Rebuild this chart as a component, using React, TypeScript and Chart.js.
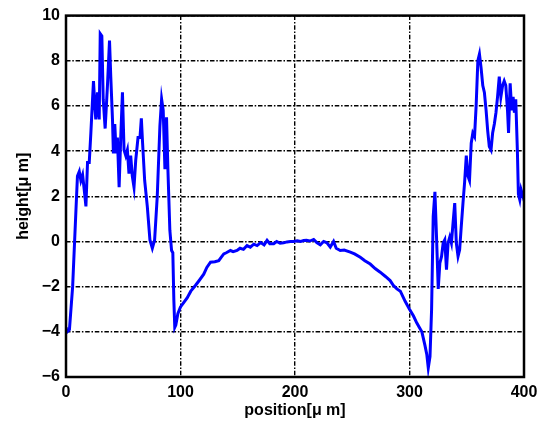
import React, { useEffect, useRef } from "react";
import { Chart, registerables } from "chart.js";

Chart.register(...registerables);

const positions: number[] = [
  0, 1, 3, 5.8, 8.7, 10, 11.6, 13, 14.5, 15.9, 17.4, 18.8, 20.3, 21.7, 23.2, 24, 25.2, 26, 27.5, 29,
  29.9, 31.3, 32.5, 34.2, 36.2, 38, 39.1, 40.6, 41.4, 42.6, 43.8, 44.9, 46.4, 47.8, 49.3, 50.7, 52.2,
  53.6, 55, 56.5, 57.9, 59.4, 60.9, 62.9, 64.6, 65.8, 66.9, 68.7, 71, 73.3, 75.4, 77.4, 79.7, 82, 83.5,
  84.9, 86.4, 87.8, 89, 90.7, 92.2, 93.3, 94.2, 95, 95.9, 97.7, 100,
  105.8, 109, 113, 116, 120.3, 123, 126.2, 130, 133.4, 135.5, 137.8, 140, 143.6, 146, 149.4, 152, 155,
  158.1, 161, 164, 166.9, 170, 173, 175.6, 178, 181.4, 184, 187, 190.1, 193, 196, 198.8, 202, 205,
  207.6, 210, 213, 216.3, 219, 222.1, 225, 227.9, 230.8, 233.7, 236, 239.5, 243, 248.3, 252, 257, 261,
  265.7, 270, 274.4, 279, 283.1, 286, 289, 292, 296.2, 300, 303.5, 306.3, 308.5, 310.8, 313.5, 315.1,
  316.4, 317.9, 319.3, 320.7, 322.2, 323.6, 325.1, 326.5, 328, 329.4, 330.8, 332.3, 333.7, 335.2,
  336.6, 338, 339.5, 340.9, 342.4, 343.8, 345.2, 346.7, 348.1, 349.6, 351, 352.4, 353.9, 355.3, 356.8,
  358.2, 359.7, 361.1, 362.5, 364, 365.4, 366.9, 368.3, 369.7, 371.2, 372.6, 374.1, 375.5, 376.9,
  378.4, 379.8, 381.3, 382.7, 384.1, 385.6, 386.5, 387.9, 389.3, 390.5, 391.6, 392.8, 394.2, 395.1,
  396.3, 397.4, 399.1, 400,
];

const heights: number[] = [
  -3.8, -4.0, -3.9, -2.0, 1.4, 2.9, 3.1, 2.7, 2.95, 2.3, 1.55, 3.5, 3.5, 4.8, 6.3, 7.1, 6.0, 5.4, 6.6, 5.4,
  9.2, 9.1, 6.3, 5.0, 6.9, 8.9, 7.3, 5.4, 3.9, 5.2, 3.9, 4.6, 2.4, 4.6, 6.6, 4.05, 3.8,
  4.05, 3.0, 3.8, 2.9, 2.4, 3.6, 4.6, 4.6, 5.45, 4.35, 2.7, 1.55, 0.07, -0.3, 0.07, 2.0, 5.1, 6.3,
  5.8, 3.2, 5.5, 3.2, 0.5, -0.4, -0.5, -2.6, -3.8, -3.7, -3.2, -2.9,
  -2.5, -2.2, -1.95, -1.75, -1.45, -1.15, -0.92, -0.9, -0.85, -0.7, -0.55, -0.5, -0.4, -0.45, -0.4, -0.3, -0.35,
  -0.18, -0.25, -0.12, -0.18, -0.05, -0.15, 0.05, -0.1, -0.1, 0.0, -0.08, -0.06, -0.02, 0.0, 0.0, 0.03, 0.0,
  0.04, 0.05, 0.02, 0.09, -0.05, -0.15, 0.0, -0.06, -0.25, 0.0, -0.3, -0.4, -0.38, -0.47, -0.55, -0.7, -0.85,
  -1.0, -1.2, -1.36, -1.55, -1.73, -1.95, -2.1, -2.2, -2.65, -3.0, -3.3, -3.6, -3.8, -4.0, -4.6, -5.0,
  -5.6, -5.1, -3.0, 1.1, 2.2, 0.2, -2.1, -0.96, -0.66, -0.07, 0.07, -1.25, -0.07, 0.2,
  -0.07, 0.8, 1.7, -0.07, -0.66, -0.37, 0.66, 1.7, 2.6, 3.8, 2.9, 2.7, 4.35, 4.8, 4.65,
  6.0, 8.0, 8.3, 7.7, 6.9, 6.6, 5.8, 4.9, 4.2, 4.05, 4.8, 5.2, 5.7, 6.4,
  7.3, 6.4, 6.9, 7.1, 6.9, 5.8, 4.8, 7.0, 5.8, 6.4, 5.7, 6.3, 4.05, 2.1,
  1.85, 2.3, 2.0, 2.2,
];

const xTicks: number[] = [0, 100, 200, 300, 400];
const yTicks: number[] = [-6, -4, -2, 0, 2, 4, 6, 8, 10];
const xTitle = "position[\u03bc m]";
const yTitle = "height[\u03bc m]";

const FONT = "'Liberation Sans', Arial, sans-serif";

const framePlugin = {
  id: "frame",
  afterDatasetsDraw(chart: any) {
    const { ctx, chartArea } = chart;
    ctx.save();
    ctx.strokeStyle = "#000";
    ctx.lineWidth = 2.5;
    ctx.setLineDash([]);
    ctx.strokeRect(chartArea.left, chartArea.top, chartArea.right - chartArea.left, chartArea.bottom - chartArea.top);
    ctx.restore();
  },
};

export default function App() {
  const ref = useRef<HTMLCanvasElement | null>(null);

  useEffect(() => {
    if (!ref.current) return;
    const data = positions.map((x, i) => ({ x, y: heights[i] }));
    const chart = new Chart(ref.current, {
      type: "line",
      data: {
        datasets: [
          {
            data,
            borderColor: "#0000ff",
            borderWidth: 3,
            pointRadius: 0,
            tension: 0,
            fill: false,
          },
        ],
      },
      options: {
        responsive: false,
        animation: false,
        layout: { padding: { left: 0, top: 15, right: 21, bottom: 0 } },
        plugins: { legend: { display: false }, tooltip: { enabled: false } },
        scales: {
          x: {
            type: "linear",
            min: 0,
            max: 400,
            afterBuildTicks: (s: any) => {
              s.ticks = xTicks.map((v) => ({ value: v }));
            },
            afterFit: (s: any) => {
              s.height = 51;
            },
            ticks: {
              color: "#000",
              padding: 6,
              font: { family: FONT, size: 16, weight: "bold" },
              callback: (v: any) => String(v).replace("-", "\u2212"),
            },
            grid: { color: "#000", lineWidth: 1.4, drawTicks: false },
            border: { display: false, dash: [4.5, 1.8, 1.5, 1.8] },
            title: {
              display: true,
              text: xTitle,
              color: "#000",
              padding: { top: 0, bottom: 8 },
              font: { family: FONT, size: 16, weight: "bold" },
            },
          },
          y: {
            type: "linear",
            min: -6,
            max: 10,
            afterBuildTicks: (s: any) => {
              s.ticks = yTicks.map((v) => ({ value: v }));
            },
            afterFit: (s: any) => {
              s.width = 66;
            },
            ticks: {
              color: "#000",
              padding: 6,
              font: { family: FONT, size: 16, weight: "bold" },
              callback: (v: any) => String(v).replace("-", "\u2212"),
            },
            grid: { color: "#000", lineWidth: 1.4, drawTicks: false },
            border: { display: false, dash: [4.5, 1.8, 1.5, 1.8] },
            title: {
              display: true,
              text: yTitle,
              color: "#000",
              padding: { top: 14, bottom: 0 },
              font: { family: FONT, size: 16, weight: "bold" },
            },
          },
        },
      },
      plugins: [framePlugin],
    } as any);
    return () => chart.destroy();
  }, []);

  return (
    <div style={{ position: "absolute", left: 0, top: 0, width: 545, height: 428, background: "#fff" }}>
      <canvas ref={ref} width={545} height={428} style={{ width: 545, height: 428 }} />
    </div>
  );
}
